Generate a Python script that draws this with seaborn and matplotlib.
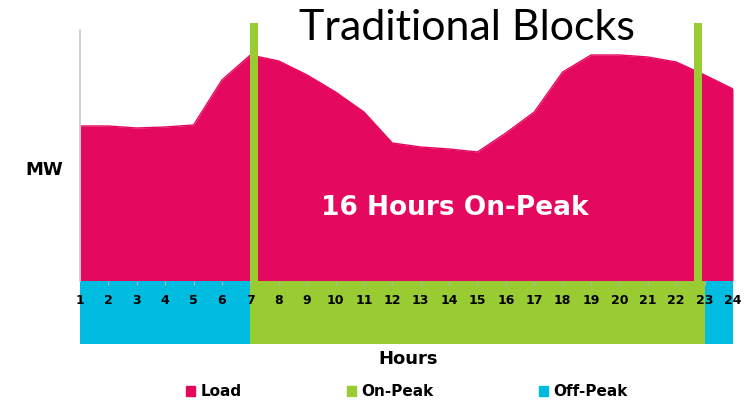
import numpy as np
import pandas as pd
import seaborn as sns
import matplotlib.pyplot as plt
from matplotlib.patches import Patch

hours = list(range(1, 25))
load = [155, 155, 153, 154, 156, 201, 226, 220, 206, 189, 169, 138,
        134, 132, 129, 148, 169, 209, 226, 226, 224, 219, 206, 192]

block_edges = [1, 7, 23, 24]
block_names = ['Off-Peak', 'On-Peak', 'Off-Peak']
divider_x = [7.0, 22.62]

PINK = '#E5085F'
GREEN = '#99CC33'
BLUE = '#00BCE0'
band_colors = {'On-Peak': GREEN, 'Off-Peak': BLUE}


def main():
    sns.set_theme(style='white')
    plt.rcParams['font.family'] = ['DejaVu Sans']
    plt.rcParams['text.color'] = 'black'
    plt.rcParams['axes.labelcolor'] = 'black'
    plt.rcParams['xtick.color'] = 'black'

    df = pd.DataFrame({'hour': hours, 'load': load})

    fig = plt.figure(figsize=(7.48, 4.04), dpi=100)
    ax = fig.add_axes([80 / 748, 1 - 344 / 404, (733 - 80) / 748, (344 - 23) / 404])
    ax.set_axisbelow(False)

    band_h = 63
    top = 258

    # load area
    ax.fill_between(df['hour'], 0, df['load'], color=PINK, lw=0, zorder=1)
    sns.lineplot(data=df, x='hour', y='load', color=PINK, lw=1, ax=ax, zorder=2)

    # block band under the axis
    for i, name in enumerate(block_names):
        ax.bar(block_edges[i], -band_h, width=block_edges[i + 1] - block_edges[i],
               align='edge', color=band_colors[name], lw=0, zorder=1)

    # on-peak dividers
    ax.bar(divider_x, top, width=0.28, align='edge', color=GREEN, lw=0, zorder=3)

    ax.vlines(hours[1:-1], -4, 0, color='#b5b5b5', lw=0.8, zorder=2)

    ax.set_xlim(1, 24)
    ax.set_ylim(-band_h, top)
    ax.set_xticks(hours)
    ax.set_xticklabels([str(h) for h in hours], fontsize=9, fontweight='bold')
    ax.tick_params(axis='x', length=0, pad=-36)
    ax.set_yticks([])

    for s in ['top', 'right', 'bottom']:
        ax.spines[s].set_visible(False)
    ax.spines['left'].set_color('#cccccc')
    ax.spines['left'].set_bounds(0, 251)

    ax.set_xlabel('Hours', fontsize=13, fontweight='bold')
    ax.xaxis.set_label_coords(0.502, -0.019)
    ax.set_ylabel('MW', fontsize=13, fontweight='bold', rotation=0, ha='center', va='center')
    ax.yaxis.set_label_coords(-0.054, 0.542)

    ax.text(14.2, 73, '16 Hours On-Peak', color='white', fontsize=19,
            fontweight='bold', ha='center', va='center', zorder=4)

    fig.text(467 / 748, 1 - 28 / 404, 'Traditional Blocks', fontsize=31, color='black',
             family=['Lato', 'DejaVu Sans'], ha='center', va='center')

    handles = [Patch(color=PINK, label='Load'),
               Patch(color=GREEN, label='On-Peak'),
               Patch(color=BLUE, label='Off-Peak')]
    fig.legend(handles=handles, loc='center', bbox_to_anchor=(407 / 748, 12 / 404),
               ncol=3, frameon=False, handlelength=0.6, handleheight=0.6,
               handletextpad=0.35, columnspacing=6.9,
               prop={'size': 11, 'weight': 'bold'})

    fig.savefig('out.png', dpi=100)


if __name__ == '__main__':
    main()
